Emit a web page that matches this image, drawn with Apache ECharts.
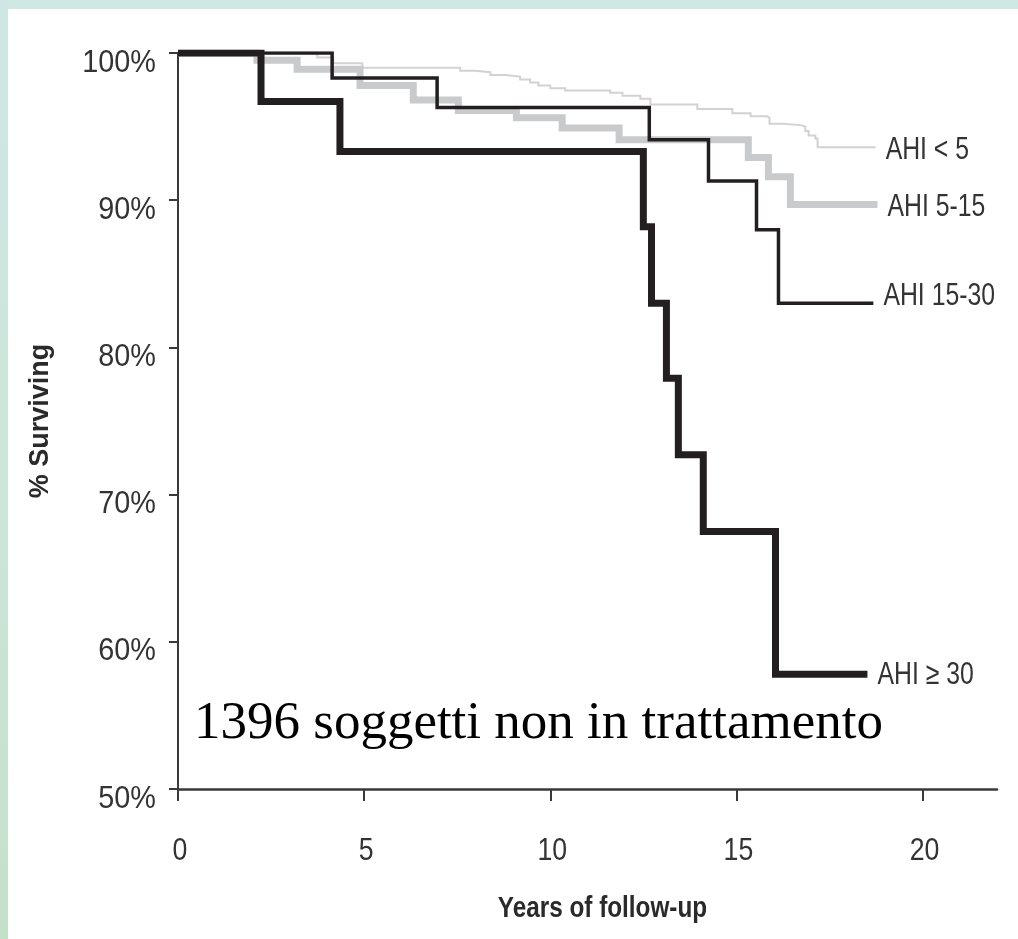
<!DOCTYPE html>
<html>
<head>
<meta charset="utf-8">
<title>Survival by AHI</title>
<script src="https://cdn.jsdelivr.net/npm/echarts/dist/echarts.min.js"></script>
<style>
  html, body { margin: 0; padding: 0; background: #ffffff; }
  #chart { width: 1018px; height: 939px; }
</style>
</head>
<body>
<div id="chart"></div>
<script>
// Kaplan-Meier step data: follow-up years and % surviving after each event
const ahiLt5Years = [0, 3.74, 4.17, 4.95, 7.58, 7.98, 8.39, 8.79, 9.19, 9.46, 9.68, 10.0, 10.40, 11.61, 11.94, 12.42, 12.69, 13.95, 14.89, 15.38, 15.83, 15.89, 16.24, 16.72, 16.85, 16.94, 17.12, 17.18, 18.74];
const ahiLt5Surv  = [100, 99.7, 99.3, 99.0, 98.8, 98.7, 98.5, 98.4, 98.2, 98.0, 97.8, 97.6, 97.45, 97.3, 97.1, 96.9, 96.5, 96.2, 95.9, 95.7, 95.6, 95.2, 95.1, 95.0, 94.7, 94.4, 94.2, 93.6, 93.6];

const ahi5to15Years = [0, 2.12, 3.20, 4.89, 6.32, 7.53, 9.09, 10.32, 11.85, 15.32, 15.86, 16.45, 18.79];
const ahi5to15Surv  = [100, 99.5, 98.9, 97.8, 96.8, 96.1, 95.6, 94.9, 94.1, 92.9, 91.6, 89.7, 89.7];

const ahi15to30Years = [0, 4.14, 6.96, 12.66, 14.25, 15.54, 16.13, 18.68];
const ahi15to30Surv  = [100, 98.3, 96.3, 94.1, 91.3, 88.0, 83.0, 83.0];

const ahiGe30Years = [0, 2.23, 4.35, 12.50, 12.72, 13.12, 13.44, 14.11, 16.05, 18.52];
const ahiGe30Surv  = [100, 96.7, 93.3, 88.2, 83.0, 77.9, 72.7, 67.5, 57.8, 57.8];

const groupNames = ['AHI < 5', 'AHI 5-15', 'AHI 15-30', 'AHI \u2265 30'];
const xTicks = [0, 5, 10, 15, 20];
const yTicks = [50, 60, 70, 80, 90, 100];

// condensed look: Arial-metric font squeezed horizontally
const sans = "'Liberation Sans', Arial, sans-serif";
const labelColor = '#333333';

function pairs(xs, ys) { return xs.map((x, i) => [x, ys[i]]); }

function stepSeries(name, xs, ys, color, width) {
  return {
    name: name,
    type: 'line',
    step: 'end',
    data: pairs(xs, ys),
    symbol: 'none',
    showSymbol: false,
    animation: false,
    silent: true,
    lineStyle: { color: color, width: width, join: 'miter', cap: 'butt' }
  };
}

const groups = [
  { xs: ahiLt5Years, ys: ahiLt5Surv, color: '#d2d2d2', width: 2, dy: 3 },
  { xs: ahi5to15Years, ys: ahi5to15Surv, color: '#c9cacc', width: 7, dy: 3 },
  { xs: ahi15to30Years, ys: ahi15to30Surv, color: '#231f20', width: 3.5, dy: -7 },
  { xs: ahiGe30Years, ys: ahiGe30Surv, color: '#231f20', width: 7, dy: 1 }
];

const chart = echarts.init(document.getElementById('chart'), null, { renderer: 'canvas' });

chart.setOption({
  backgroundColor: '#ffffff',
  animation: false,
  grid: { left: 178, right: 21, top: 53, bottom: 150, containLabel: false },
  xAxis: {
    type: 'value',
    min: 0,
    max: 22,
    interval: 5,
    axisLine: { show: true, lineStyle: { color: '#3a3a3a', width: 2.5 } },
    axisTick: { show: true, inside: false, length: 12, customValues: xTicks,
      lineStyle: { color: '#3a3a3a', width: 2 } },
    axisLabel: { show: false },
    splitLine: { show: false }
  },
  yAxis: {
    type: 'value',
    min: 50,
    max: 100,
    interval: 10,
    name: '% Surviving',
    nameLocation: 'middle',
    nameGap: 124,
    nameRotate: 90,
    nameTextStyle: { fontFamily: sans, fontSize: 27, fontWeight: 'bold', color: '#2a2a2a' },
    axisLine: { show: true, lineStyle: { color: '#3a3a3a', width: 2 } },
    axisTick: { show: true, inside: false, length: 9, customValues: yTicks,
      lineStyle: { color: '#3a3a3a', width: 2 } },
    axisLabel: { show: false },
    splitLine: { show: false }
  },
  series: groups.map((g, i) => stepSeries(groupNames[i], g.xs, g.ys, g.color, g.width))
});

// Text drawn as graphics so it can be condensed; positions come from the grid scales
const toPx = (x, y) => chart.convertToPixel({ gridIndex: 0 }, [x, y]);

function squeezedText(text, x, y, opts) {
  return {
    type: 'text', silent: true, z: 100,
    x: x, y: y,
    scaleX: opts.scaleX,
    style: {
      text: text,
      font: (opts.weight || 'normal') + ' ' + opts.size + 'px ' + sans,
      fill: opts.color || labelColor,
      align: opts.align,
      verticalAlign: 'middle'
    }
  };
}

const graphics = [
  // light frame along the top and left edges of the page
  {
    type: 'rect', silent: true, z: 100,
    shape: { x: 0, y: 0, width: 1018, height: 9 },
    style: { fill: '#cfe8e3' }
  },
  {
    type: 'rect', silent: true, z: 100,
    shape: { x: 0, y: 0, width: 8, height: 939 },
    style: {
      fill: new echarts.graphic.LinearGradient(0, 0, 0, 1, [
        { offset: 0, color: '#cfe7e4' },
        { offset: 0.5, color: '#cce6da' },
        { offset: 1, color: '#c5e0c9' }
      ])
    }
  },
  {
    type: 'text', silent: true, z: 100,
    left: 194, top: 698,
    style: {
      text: '1396 soggetti non in trattamento',
      font: "53px 'Liberation Serif', 'Times New Roman', serif",
      fill: '#000000'
    }
  }
];

const originPx = toPx(0, 50);
const xEndPx = toPx(22, 50);

yTicks.forEach(v => {
  const p = toPx(0, v);
  graphics.push(squeezedText(v + '%', p[0] - 22, p[1] + 10, { size: 31, scaleX: 0.93, align: 'right' }));
});
xTicks.forEach(v => {
  const p = toPx(v, 50);
  graphics.push(squeezedText(String(v), p[0] + 2, p[1] + 62, { size: 31, scaleX: 0.86, align: 'center' }));
});

groups.forEach((g, i) => {
  const n = g.xs.length - 1;
  const p = toPx(g.xs[n], g.ys[n]);
  graphics.push(squeezedText(groupNames[i], p[0] + 10, p[1] + g.dy, { size: 31, scaleX: 0.8, align: 'left' }));
});

graphics.push(squeezedText('Years of follow-up', (originPx[0] + xEndPx[0]) / 2 + 15, originPx[1] + 120,
  { size: 30, scaleX: 0.81, align: 'center', weight: 'bold', color: '#2a2a2a' }));

chart.setOption({ graphic: graphics });
</script>
</body>
</html>
